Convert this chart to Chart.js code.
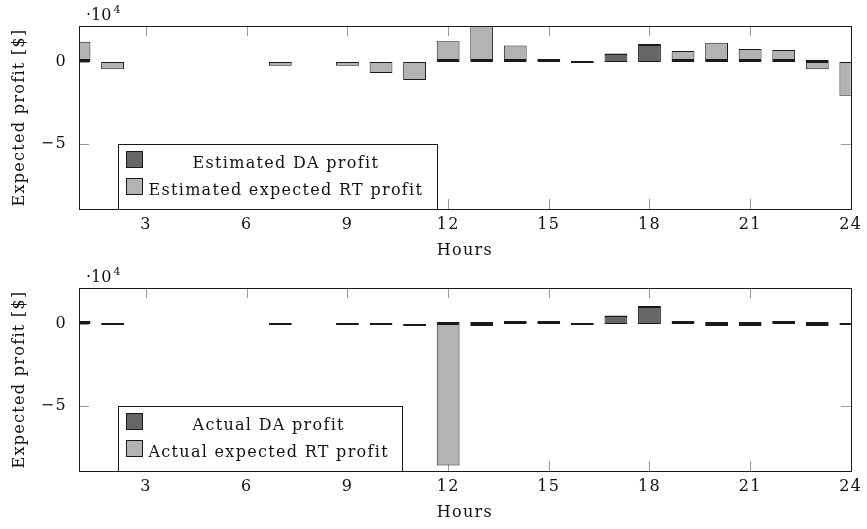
<!DOCTYPE html>
<html>
<head>
<meta charset="utf-8">
<script src="https://cdn.jsdelivr.net/npm/chart.js@4.4.0/dist/chart.umd.min.js"></script>
<style>
  body { margin: 0; background: #fff; }
  .panel { position: relative; width: 867px; height: 262px; }
</style>
</head>
<body>
<div class="panel"><canvas id="estimated"></canvas></div>
<div class="panel"><canvas id="actual"></canvas></div>
<script>
const hours = ['1','2','3','4','5','6','7','8','9','10','11','12','13','14','15','16','17','18','19','20','21','22','23','24'];
const xTickHours = [3, 6, 9, 12, 15, 18, 21, 24];
const yTicks = [-50000, 0];

// profits in $, null = no bar that hour
const daProfit          = [800, null, null, null, null, null, null, null, null, null, null, 600, 300, 300, 500, null, 4500, 10300, 300, 200, 300, 800, 300, null];
const estimatedRtProfit = [11200, -4500, null, null, null, null, -2400, null, -2400, -6700, -11100, 11400, 21000, 8800, 0, 0, 0, 0, 5400, 10600, 6700, 6100, -4500, -20700];
const actualRtProfit    = [0, 0, null, null, null, null, 0, null, 0, 0, -500, -86600, -600, 0, 0, 0, 0, 0, 0, -200, -200, 0, -300, 0];

const FONT = '"DejaVu Serif", serif';
const DARK = '#666666';
const LIGHT = '#b3b3b3';
const EDGE = '#1a1a1a';

// inward ticks, closed frame, ·10^4 marker and boxed legend (pgfplots look)
const axisDecor = {
  id: 'axisDecor',
  beforeDraw(chart) {
    // a little tracking so the serif text runs as wide as the TeX original
    chart.ctx.letterSpacing = '1.3px';
  },
  beforeDatasetsDraw(chart) {
    const { ctx, chartArea: a, scales: { x, y } } = chart;
    ctx.save();
    ctx.strokeStyle = '#999';
    ctx.lineWidth = 1;
    ctx.beginPath();
    xTickHours.forEach(h => {
      const px = Math.round(x.getPixelForValue(hours.indexOf(String(h)))) + 0.5;
      ctx.moveTo(px, a.top); ctx.lineTo(px, a.top + 10);
      ctx.moveTo(px, a.bottom); ctx.lineTo(px, a.bottom - 10);
    });
    yTicks.forEach(v => {
      const py = Math.round(y.getPixelForValue(v)) + 0.5;
      ctx.moveTo(a.left, py); ctx.lineTo(a.left + 10, py);
      ctx.moveTo(a.right, py); ctx.lineTo(a.right - 10, py);
    });
    ctx.stroke();
    ctx.restore();
  },
  afterDraw(chart) {
    const { ctx, chartArea: a } = chart;
    ctx.save();
    ctx.strokeStyle = EDGE;
    ctx.lineWidth = 1;
    ctx.strokeRect(Math.round(a.left) + 0.5, Math.round(a.top) + 0.5, Math.round(a.width), Math.round(a.height));

    ctx.fillStyle = '#111';
    ctx.textBaseline = 'alphabetic';
    ctx.letterSpacing = '0px';
    ctx.font = '16px ' + FONT;
    ctx.fillText('·10', a.left + 7, a.top - 6);
    const w = ctx.measureText('·10').width;
    ctx.font = '11px ' + FONT;
    ctx.fillText('4', a.left + 9 + w, a.top - 13);

    // legend
    const sets = chart.data.datasets;
    ctx.letterSpacing = '1.3px';
    ctx.font = '16px ' + FONT;
    const tw = Math.max(...sets.map(d => ctx.measureText(d.label).width));
    const bh = 65;
    const bx = Math.round(a.left) + 39.5;
    const by = Math.round(a.bottom) - bh + 0.5;
    const bw = Math.round(8 + 16 + 6 + tw + 14);
    ctx.fillStyle = '#fff';
    ctx.fillRect(bx, by, bw, bh);
    ctx.strokeRect(bx, by, bw, bh);
    ctx.textAlign = 'center';
    sets.forEach((d, i) => {
      const sy = by + 7 + i * 27;
      ctx.fillStyle = d.backgroundColor;
      ctx.fillRect(bx + 8, sy, 16, 16);
      ctx.strokeRect(bx + 8, sy, 16, 16);
      ctx.fillStyle = '#111';
      ctx.fillText(d.label, bx + 30 + tw / 2, sy + 16);
    });
    ctx.restore();
  }
};

function makeChart(id, daLabel, rtLabel, rtValues) {
  return new Chart(document.getElementById(id), {
    type: 'bar',
    data: {
      labels: hours,
      datasets: [
        { label: daLabel, data: daProfit, backgroundColor: DARK },
        { label: rtLabel, data: rtValues, backgroundColor: LIGHT }
      ]
    },
    options: {
      responsive: true,
      maintainAspectRatio: false,
      animation: false,
      layout: { padding: { left: 0, top: 26, right: 10, bottom: 0 } },
      datasets: {
        bar: {
          borderColor: EDGE,
          borderWidth: 1,
          borderSkipped: false,
          categoryPercentage: 0.68,
          barPercentage: 1,
          minBarLength: 2,
          clip: 0
        }
      },
      plugins: { legend: { display: false }, tooltip: { enabled: false } },
      scales: {
        x: {
          stacked: true,
          offset: false,
          grid: { display: false, drawTicks: false },
          border: { display: false },
          afterFit: s => { s.height = 53; },
          ticks: {
            autoSkip: false,
            maxRotation: 0,
            padding: 6,
            color: '#111',
            font: { family: FONT, size: 16 },
            callback: (v, i) => xTickHours.includes(Number(hours[i])) ? hours[i] : ''
          },
          title: { display: true, text: 'Hours', color: '#111', font: { family: FONT, size: 16 }, padding: { top: 0, bottom: 2 } }
        },
        y: {
          stacked: true,
          min: -90000,
          max: 22000,
          grid: { display: false, drawTicks: false },
          border: { display: false },
          afterFit: s => { s.width = 79; },
          afterBuildTicks: s => { s.ticks = yTicks.map(v => ({ value: v })); },
          ticks: {
            padding: 12,
            color: '#111',
            font: { family: FONT, size: 16 },
            callback: v => v === 0 ? '0' : '\u2212' + Math.abs(v / 10000)
          },
          title: { display: true, text: 'Expected profit [$]', color: '#111', font: { family: FONT, size: 16 }, padding: { top: 10, bottom: 0 } }
        }
      }
    },
    plugins: [axisDecor]
  });
}

makeChart('estimated', 'Estimated DA profit', 'Estimated expected RT profit', estimatedRtProfit);
makeChart('actual', 'Actual DA profit', 'Actual expected RT profit', actualRtProfit);
</script>
</body>
</html>
